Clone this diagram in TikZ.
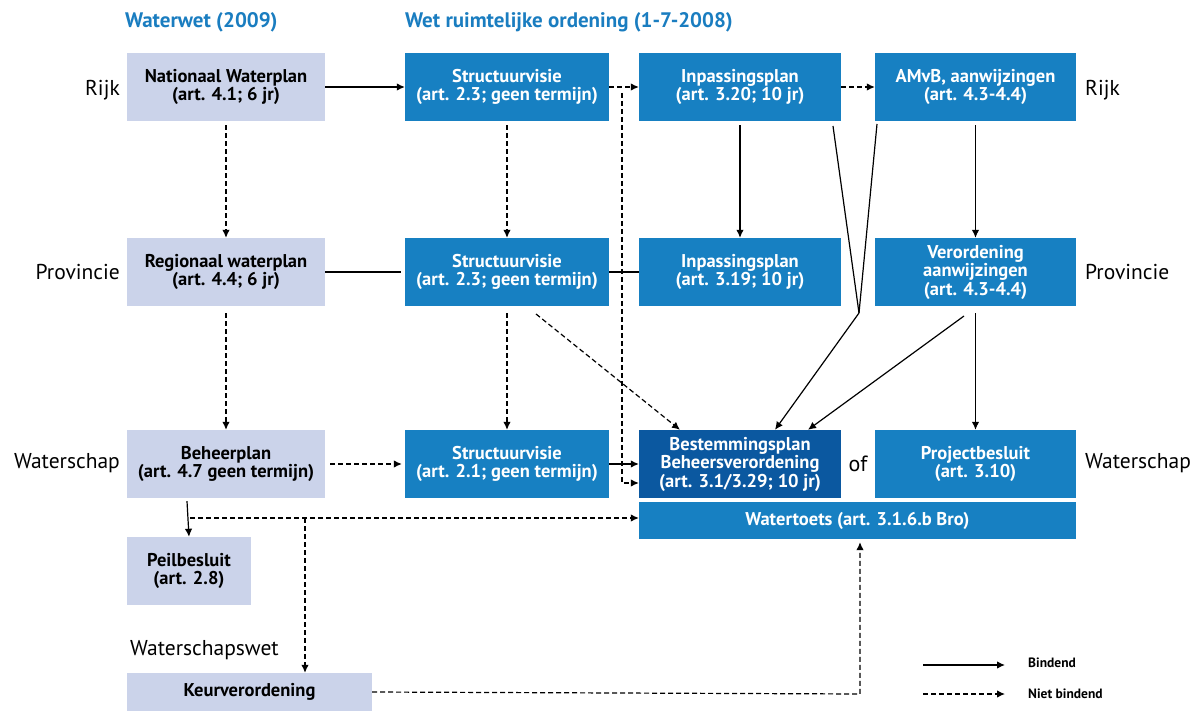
\documentclass[tikz,border=0pt]{standalone}
\usepackage{fontspec}
\setmainfont{PT Sans}
\usetikzlibrary{arrows.meta}
\definecolor{lightbox}{HTML}{CBD3EA}
\definecolor{bluebox}{HTML}{1780C2}
\definecolor{darkbox}{HTML}{0B58A0}
\definecolor{titleblue}{HTML}{1A7DC0}
\tikzset{
  boxbase/.style={inner sep=2pt, align=center, font=\fontsize{18.5}{18.5}\selectfont\bfseries, minimum height=68pt},
  lbox/.style={boxbase, fill=lightbox, text=black},
  bbox/.style={boxbase, fill=bluebox, text=white},
  dbox/.style={boxbase, fill=darkbox, text=white},
  rowlabel/.style={font=\fontsize{21.5}{24}\selectfont, text=black, inner sep=0pt},
  titlelabel/.style={font=\fontsize{21}{24}\selectfont\bfseries, text=titleblue, inner sep=0pt},
  legendtext/.style={font=\fontsize{13.5}{15}\selectfont\bfseries, inner sep=0pt},
  conn/.style={line width=1.2pt, -{Latex[length=8pt,width=7.5pt]}},
  plain/.style={line width=1.2pt},
  dconn/.style={conn, dash pattern=on 5pt off 3pt},
  dplain/.style={plain, dash pattern=on 5pt off 3pt}
}
\begin{document}
\begin{tikzpicture}[x=1pt,y=-1pt]
\useasboundingbox (0,0) rectangle (1195,711);

% titles
\node[titlelabel, anchor=west] (t1) at (125,22) {Waterwet (2009)};
\node[titlelabel, anchor=west] (t2) at (405,22) {Wet ruimtelijke ordening (1-7-2008)};

% row labels
\node[rowlabel, anchor=east] (lr) at (120,90) {Rijk};
\node[rowlabel, anchor=east] (lp) at (120,272) {Provincie};
\node[rowlabel, anchor=east] (lw) at (120,463) {Waterschap};
\node[rowlabel, anchor=west] (rr) at (1085,90) {Rijk};
\node[rowlabel, anchor=west] (rp) at (1085,272) {Provincie};
\node[rowlabel, anchor=west] (rw2) at (1085,463) {Waterschap};
\node[rowlabel, anchor=west] (lws) at (130,650) {Waterschapswet};

% column 1
\node[lbox, minimum width=198pt] (nw) at (226,87) {Nationaal Waterplan\\(art. 4.1; 6 jr)};
\node[lbox, minimum width=198pt] (rw) at (226,272) {Regionaal waterplan\\(art. 4.4; 6 jr)};
\node[lbox, minimum width=198pt] (bp) at (226,464) {Beheerplan\\(art. 4.7 geen termijn)};
\node[lbox, minimum width=124pt] (pb) at (189,571) {Peilbesluit\\(art. 2.8)};
\node[lbox, minimum width=245pt, minimum height=38pt] (kv) at (249.5,692) {Keurverordening};

% column 2
\node[bbox, minimum width=204pt] (sv1) at (507,87) {Structuurvisie\\(art. 2.3; geen termijn)};
\node[bbox, minimum width=204pt] (sv2) at (507,272) {Structuurvisie\\(art. 2.3; geen termijn)};
\node[bbox, minimum width=204pt] (sv3) at (507,464) {Structuurvisie\\(art. 2.1; geen termijn)};

% column 3
\node[bbox, minimum width=202pt] (ip1) at (740,87) {Inpassingsplan\\(art. 3.20; 10 jr)};
\node[bbox, minimum width=202pt] (ip2) at (740,272) {Inpassingsplan\\(art. 3.19; 10 jr)};
\node[dbox, minimum width=202pt] (bs) at (740,464) {Bestemmingsplan\\Beheersverordening\\(art. 3.1/3.29; 10 jr)};

% column 4
\node[bbox, minimum width=201pt] (am) at (975.5,87) {AMvB, aanwijzingen\\(art. 4.3-4.4)};
\node[bbox, minimum width=201pt] (vo) at (975.5,272) {Verordening\\aanwijzingen\\(art. 4.3-4.4)};
\node[bbox, minimum width=201pt] (pj) at (975.5,464) {Projectbesluit\\(art. 3.10)};

\node[bbox, minimum width=437pt, minimum height=37pt] (wt) at (857.5,520.5) {Watertoets (art. 3.1.6.b Bro)};

\node[rowlabel, font=\fontsize{22}{24}\selectfont] (of) at (858,464) {of};

% coordinates
\coordinate (c1) at (622,93);
\coordinate (c2) at (622,483);
\coordinate (d1) at (190,518);
\coordinate (d2) at (305,518);
\coordinate (k1) at (860,694);
\coordinate (v1) at (859,313);
\coordinate (ipa) at (833,126);
\coordinate (ama) at (877,124);
\coordinate (sva) at (536,314);
\coordinate (voa) at (964,316);

% Rijk row
\draw[conn] (nw.east) -- (sv1.west);
\draw[dconn] (sv1.east) -- (ip1.west);
\draw[dconn] (ip1.east) -- (am.west);

% vertical dashed from Rijk structuurvisie to bestemmingsplan
\draw[dconn] (c1) -- (c2) -- (bs.west |- c2);

% column 1 vertical
\draw[dconn] ([yshift=-4pt]nw.south) -- (rw.north);
\draw[dconn] ([yshift=-7pt]rw.south) -- (bp.north);
\draw[dconn] ([yshift=-4pt]sv1.south) -- (sv2.north);
\draw[dconn] ([yshift=-7pt]sv2.south) -- (sv3.north);

% Provincie row lines
\draw[plain] (rw.east) -- ([xshift=-4pt]sv2.west);
\draw[plain] (sv2.east) -- (ip2.west);

% diagonal dashed
\draw[dconn] (sva) -- ([xshift=-60pt]bs.north);

% verticals solid
\draw[conn] ([yshift=-4pt]ip1.south) -- (ip2.north);
\draw[conn] ([yshift=-4pt]am.south) -- (vo.north);
\draw[conn] ([yshift=-7pt]vo.south) -- (pj.north);

% V converging lines
\draw[plain] (ipa) -- (v1);
\draw[plain] (ama) -- (v1);
\draw[conn] (v1) -- ([xshift=35pt]bs.north);
\draw[conn] (voa) -- ([xshift=68pt]bs.north);

% Waterschap row
\draw[dconn] ([xshift=5pt]bp.east) -- ([xshift=-3pt]sv3.west);
\draw[conn] (sv3.east) -- (bs.west);

% bottom
\draw[conn] ([xshift=-39pt,yshift=-3pt]bp.south) -- (pb.north);
\draw[dconn] (d1) -- (wt.west |- d1);
\draw[dconn] (d2) -- (kv.north -| d2);
\draw[dconn] (kv.east) -- (k1) -- ([yshift=-3pt]wt.south -| k1);

% legend
\coordinate (la1) at (923,665);
\coordinate (la2) at (1005,665);
\coordinate (lb1) at (923,694);
\coordinate (lb2) at (1005,694);
\draw[conn] (la1) -- (la2);
\draw[dconn] (lb1) -- (lb2);
\node[legendtext, anchor=west] (lt1) at (1028,663) {Bindend};
\node[legendtext, anchor=west] (lt2) at (1028,694) {Niet bindend};
\end{tikzpicture}
\end{document}
